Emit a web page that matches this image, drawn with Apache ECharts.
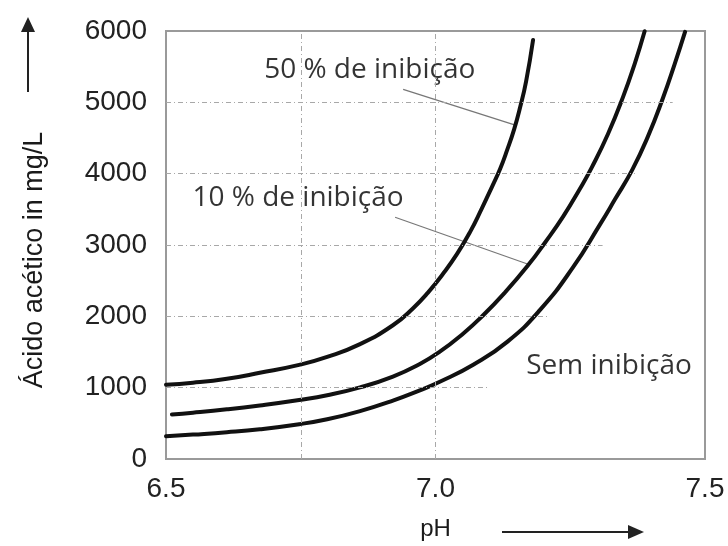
<!DOCTYPE html>
<html>
<head>
<meta charset="utf-8">
<script src="https://cdn.jsdelivr.net/npm/echarts@6/dist/echarts.min.js"></script>
<style>html,body{margin:0;padding:0;background:#fff}#c{width:728px;height:546px}</style>
</head>
<body>
<div id="c"></div>
<script>
// ---- data ----
const xTicks = [6.5, 7.0, 7.5];
const yTicks = [0, 1000, 2000, 3000, 4000, 5000, 6000];

const ph50   = [6.5, 6.55, 6.613, 6.674, 6.747, 6.799, 6.86, 6.921, 6.958, 6.986, 7.014, 7.04, 7.064, 7.086, 7.105, 7.12, 7.133, 7.146, 7.157, 7.168, 7.181];
const acid50 = [1042, 1069, 1125, 1208, 1319, 1431, 1611, 1875, 2111, 2333, 2597, 2875, 3181, 3514, 3819, 4069, 4333, 4625, 4931, 5292, 5875];

const ph10   = [6.511, 6.55, 6.613, 6.674, 6.747, 6.799, 6.86, 6.921, 6.971, 7.008, 7.049, 7.088, 7.129, 7.172, 7.203, 7.237, 7.268, 7.29, 7.32, 7.348, 7.37, 7.388];
const acid10 = [625, 649, 696, 751, 828, 894, 1004, 1156, 1332, 1504, 1743, 2011, 2335, 2718, 3032, 3401, 3789, 4089, 4556, 5076, 5551, 5996];

const ph0    = [6.5, 6.55, 6.613, 6.674, 6.747, 6.799, 6.86, 6.921, 6.971, 7.008, 7.07, 7.133, 7.194, 7.255, 7.305, 7.333, 7.365, 7.394, 7.422, 7.444, 7.463];
const acid0  = [319, 342, 375, 417, 488, 557, 672, 819, 963, 1082, 1321, 1642, 2090, 2686, 3286, 3640, 4053, 4519, 5061, 5544, 5989];

const annotText = ['50 % de inibição', '10 % de inibição', 'Sem inibição'];
const annotPh   = [6.878, 6.745, 7.322];
const annotAcid = [5458, 3653, 1306];

const leader50Ph = [6.940, 7.148], leader50Acid = [5181, 4680];
const leader10Ph = [6.925, 7.172], leader10Acid = [3389, 2730];

const hGridValues = [1000, 2000, 3000, 4000, 5000];
const hGridEnds   = [7.10, 7.21, 7.31, 7.37, 7.44];
const vGridValues = [6.75, 7.0];

// ---- build ----
const zip = (a, b) => a.map((v, i) => [v, b[i]]);
const curveStyle = { width: 4, color: '#111', join: 'round', cap: 'round' };
const gridStyle = { color: '#a8a8a8', width: 1, type: [5, 3, 1, 3] };

const chart = echarts.init(document.getElementById('c'), null, { renderer: 'canvas' });
chart.setOption({
  animation: false,
  backgroundColor: '#fff',
  grid: { left: 166, right: 23, top: 31, bottom: 83, show: true, borderColor: '#9a9a9a', borderWidth: 2 },
  xAxis: {
    type: 'value', min: 6.5, max: 7.5, interval: 0.5,
    name: 'pH', nameLocation: 'middle', nameGap: 58,
    nameTextStyle: { fontFamily: 'Liberation Sans', fontSize: 24, color: '#1a1a1a' },
    axisLine: { show: false }, axisTick: { show: false }, splitLine: { show: false },
    axisLabel: { margin: 16, fontFamily: 'Liberation Sans', fontSize: 28, color: '#222',
      formatter: v => xTicks.includes(+v.toFixed(2)) ? v.toFixed(1) : '' }
  },
  yAxis: {
    type: 'value', min: 0, max: 6000, interval: 1000,
    name: 'Ácido acético in mg/L', nameLocation: 'middle', nameGap: 118,
    nameTextStyle: { fontFamily: 'Liberation Sans', fontSize: 27, color: '#1a1a1a', padding: [0, 30, 0, 0] },
    axisLine: { show: false }, axisTick: { show: false }, splitLine: { show: false },
    axisLabel: { margin: 19, fontFamily: 'Liberation Sans', fontSize: 28, color: '#222',
      formatter: v => yTicks.includes(v) ? String(v) : '' }
  },
  series: [
    {
      type: 'line', data: [], silent: true, z: 1,
      markLine: {
        silent: true, symbol: 'none', label: { show: false }, lineStyle: gridStyle,
        data: hGridValues.map((v, i) => [{ coord: [6.5, v] }, { coord: [hGridEnds[i], v] }])
          .concat(vGridValues.map(v => ({ xAxis: v })))
      }
    },
    { type: 'line', name: 'leader50', data: zip(leader50Ph, leader50Acid), showSymbol: false, symbol: 'none',
      lineStyle: { width: 1.2, color: '#777' }, z: 2 },
    { type: 'line', name: 'leader10', data: zip(leader10Ph, leader10Acid), showSymbol: false, symbol: 'none',
      lineStyle: { width: 1.2, color: '#777' }, z: 2 },
    { type: 'line', name: '50 % de inibição', data: zip(ph50, acid50), smooth: 0.5, showSymbol: false, symbol: 'none', lineStyle: curveStyle, z: 3 },
    { type: 'line', name: '10 % de inibição', data: zip(ph10, acid10), smooth: 0.5, showSymbol: false, symbol: 'none', lineStyle: curveStyle, z: 3 },
    { type: 'line', name: 'Sem inibição', data: zip(ph0, acid0), smooth: 0.5, showSymbol: false, symbol: 'none', lineStyle: curveStyle, z: 3 },
    {
      type: 'scatter', symbolSize: 0, z: 4, silent: true,
      data: annotText.map((t, i) => ({ name: t, value: [annotPh[i], annotAcid[i]] })),
      label: { show: true, position: 'inside', formatter: p => p.name,
        fontFamily: 'Open Sans', fontSize: 28, color: '#000' }
    }
  ],
  graphic: [
    { type: 'line', shape: { x1: 28, y1: 92, x2: 28, y2: 30 }, style: { stroke: '#222', lineWidth: 2 } },
    { type: 'polygon', shape: { points: [[28, 17], [21, 32], [35, 32]] }, style: { fill: '#222' } },
    { type: 'line', shape: { x1: 502, y1: 532, x2: 630, y2: 532 }, style: { stroke: '#222', lineWidth: 2 } },
    { type: 'polygon', shape: { points: [[644, 532], [628, 525], [628, 539]] }, style: { fill: '#222' } }
  ]
});
</script>
</body>
</html>
